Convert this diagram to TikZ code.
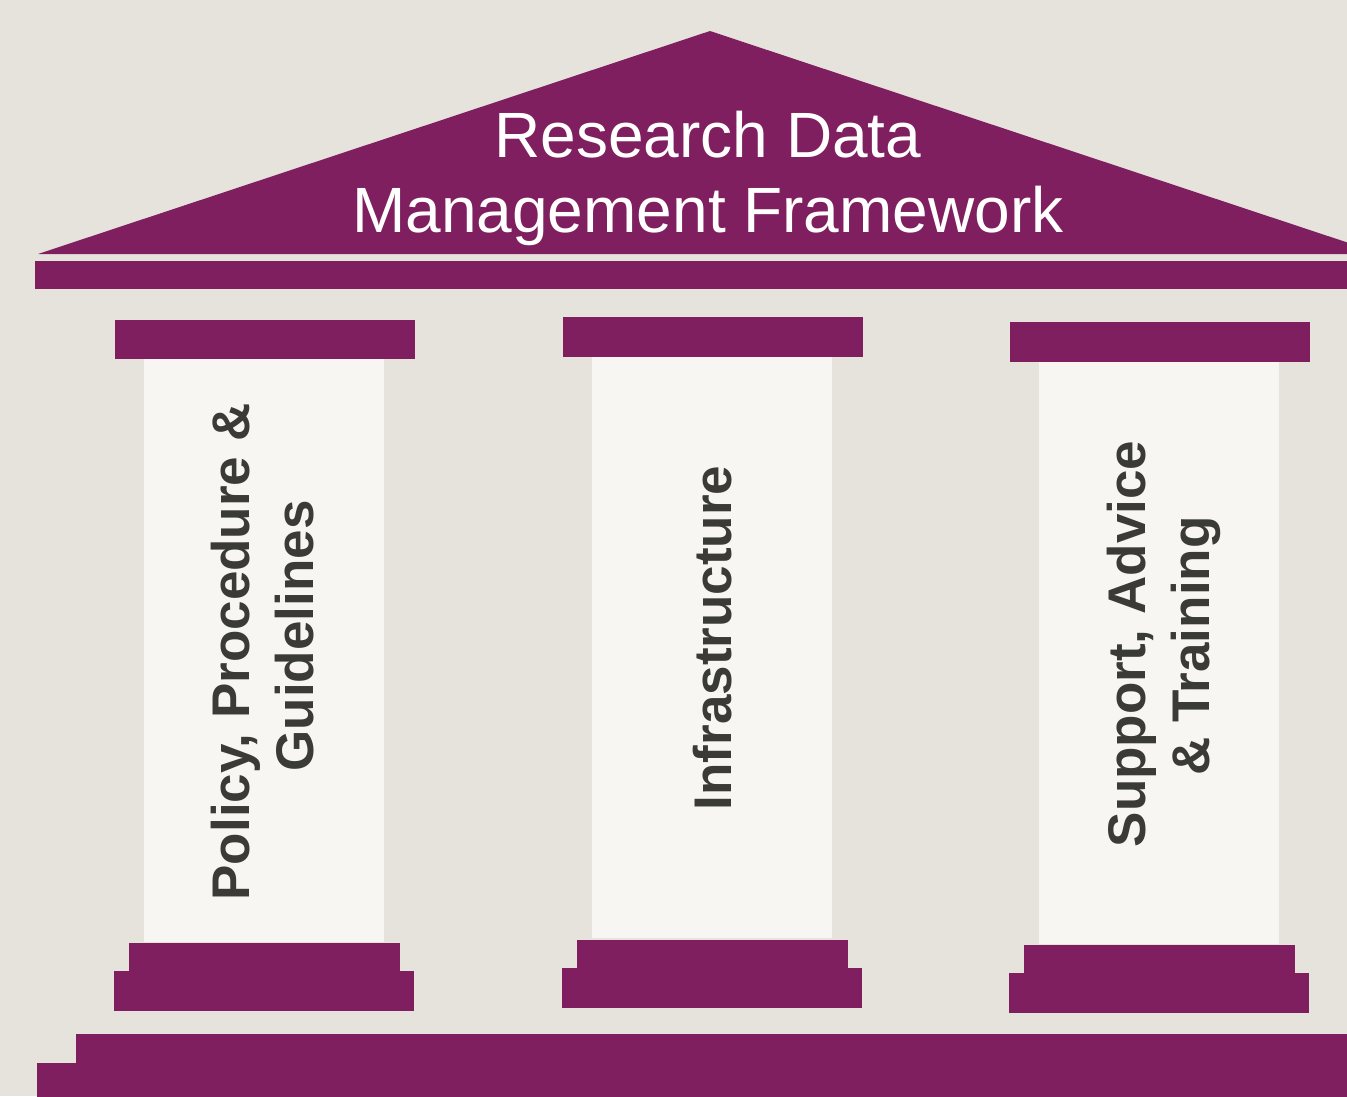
\documentclass[tikz,border=0pt]{standalone}
\usepackage{fontspec}
\setmainfont{Liberation Sans}
\definecolor{bgc}{HTML}{E6E3DD}
\definecolor{plum}{HTML}{7F1F5F}
\definecolor{shaftc}{HTML}{F7F6F2}
\definecolor{txtc}{HTML}{3A3B37}
\begin{document}
\begin{tikzpicture}[x=1pt,y=-1pt,
  part/.style={fill=plum},
  shaft/.style={fill=shaftc},
  pillartext/.style={rotate=90,anchor=base,inner sep=0pt,text=txtc,font=\fontsize{53}{64}\selectfont\bfseries},
  titletext/.style={anchor=base,inner sep=0pt,text=white,font=\fontsize{64}{75}\selectfont}]
\useasboundingbox (0,0) rectangle (1347,1096);
\fill[bgc] (0,0) rectangle (1347,1096);
% roof
\fill[part] (38,254) -- (710,31) -- (1382,254) -- cycle;
\fill[part] (35,261) rectangle (1350,289);
% left pillar
\fill[shaft] (144,359) rectangle (384,942);
\fill[part] (115,320) rectangle (415,359);
\fill[part] (129,943) rectangle (400,972);
\fill[part] (114,971) rectangle (414,1011);
% middle pillar
\fill[shaft] (592,357) rectangle (832,938);
\fill[part] (563,317) rectangle (863,357);
\fill[part] (577,940) rectangle (848,969);
\fill[part] (562,968) rectangle (862,1008);
% right pillar
\fill[shaft] (1039,362) rectangle (1279,944);
\fill[part] (1010,322) rectangle (1310,362);
\fill[part] (1024,945) rectangle (1295,974);
\fill[part] (1009,973) rectangle (1309,1013);
% base platform
\fill[part] (76,1034) rectangle (1350,1064);
\fill[part] (37,1063) rectangle (1350,1100);
% texts
\node[titletext] (t1) at (708,157) {Research Data};
\node[titletext] (t2) at (708,232) {Management Framework};
\node[pillartext] (l1) at (249,652) {Policy, Procedure \&};
\node[pillartext] (l2) at (313,636) {Guidelines};
\node[pillartext] (m1) at (731,638) {Infrastructure};
\node[pillartext] (r1) at (1145,644) {Support, Advice};
\node[pillartext] (r2) at (1209,646) {\& Training};
\end{tikzpicture}
\end{document}
